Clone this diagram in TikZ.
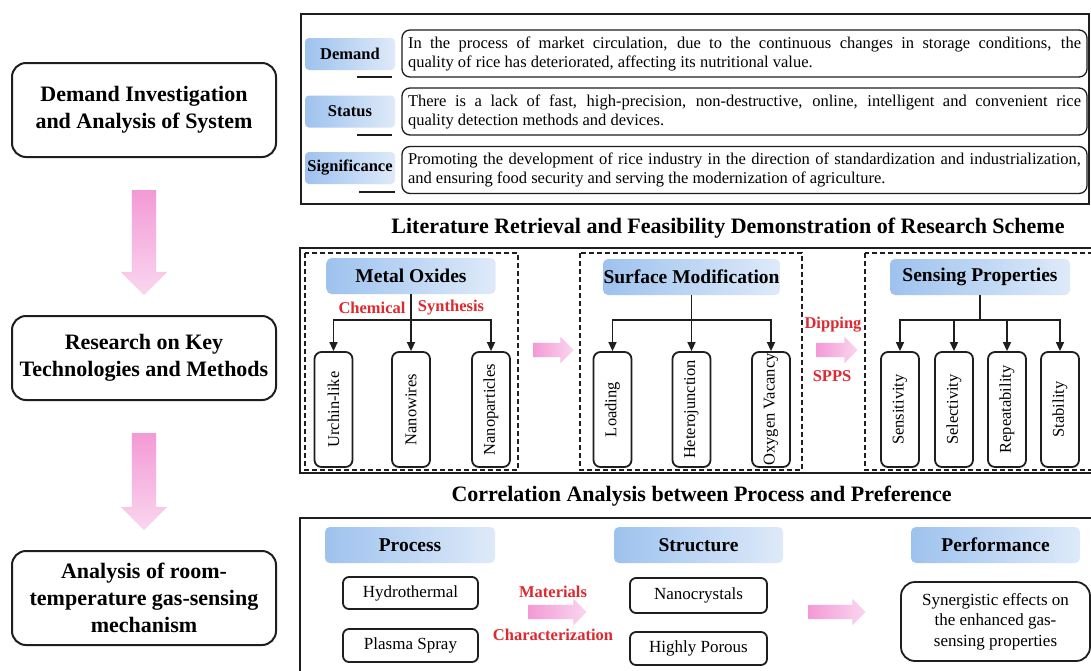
\documentclass[tikz,border=0pt]{standalone}
\usepackage{fontspec,graphicx}
\setmainfont{Liberation Serif}
\usetikzlibrary{arrows.meta,calc,shapes.arrows}
\definecolor{lineblk}{HTML}{1E1E1E}
\definecolor{hotred}{HTML}{DC2A30}
\definecolor{blueA}{HTML}{9EC2EE}
\definecolor{blueB}{HTML}{DEEAF9}
\definecolor{pinkA}{HTML}{F39AD5}
\definecolor{pinkB}{HTML}{FAD6EF}

\begin{document}
\begin{tikzpicture}[
  x=1pt, y=-1pt,
  stage/.style={draw=lineblk, line width=2pt, rounded corners=14pt, fill=white, minimum width=264pt, inner xsep=3pt, align=center, font=\fontsize{22}{27}\selectfont\bfseries},
  tag/.style={rounded corners=4pt, left color=blueA, right color=blueB, minimum width=90pt, minimum height=32pt, inner sep=0pt, font=\fontsize{16.5}{19}\selectfont\bfseries},
  note/.style={draw=lineblk, line width=1.3pt, rounded corners=8pt, text width=673pt, inner xsep=6pt, inner ysep=3pt, align=justify, minimum height=47pt, font=\fontsize{16.5}{19}\selectfont},
  head/.style={rounded corners=5pt, left color=blueA, right color=blueB, minimum height=36pt, inner sep=0pt, font=\fontsize{19.5}{23}\selectfont\bfseries},
  leaf/.style={draw=lineblk, line width=1.8pt, rounded corners=7pt, minimum width=38pt, minimum height=115pt, inner sep=0pt, font=\fontsize{16.5}{20}\selectfont},
  item/.style={draw=lineblk, line width=1.8pt, rounded corners=6pt, inner sep=0pt, align=center, font=\fontsize{17}{20.5}\selectfont},
  redtxt/.style={text=hotred, inner sep=0pt, font=\fontsize{16.5}{20}\selectfont\bfseries},
  title/.style={inner sep=0pt, font=\fontsize{22}{26}\selectfont\bfseries},
  panel/.style={draw=lineblk, line width=2.5pt},
  zone/.style={draw=lineblk, line width=1.4pt, dash pattern=on 5pt off 3pt},
  edge/.style={-{Triangle[length=9pt,width=8pt]}, line width=1.5pt, draw=lineblk},
  uline/.style={line width=1.8pt, draw=lineblk},
  downarrow/.style={single arrow, shape border rotate=270, draw=none, top color=pinkA, bottom color=pinkB, inner sep=12pt, minimum width=46pt, single arrow head extend=11pt},
  rightarrow/.style={single arrow, draw=none, left color=pinkA, right color=pinkB, inner sep=7pt, minimum width=26pt, single arrow head extend=6pt}
]
\useasboundingbox (0,0) rectangle (1091,670);
\clip (0,0) rectangle (1091,670);
\fill[white] (0,0) rectangle (1091,670);

\node[stage, minimum height=94pt] (demand) at (144,110) {Demand Investigation\\and Analysis of System};
\node[stage, minimum height=84pt] (research) at (144,358) {Research on Key\\Technologies and Methods};
\node[stage, minimum height=94pt] (mechanism) at (144,598) {Analysis of room-\\temperature gas-sensing\\mechanism};
\node[downarrow, minimum height=105pt] (ar1) at ($(demand.south)!0.5!(research.north)$) {};
\node[downarrow, minimum height=97pt] (ar2) at ($(research.south)!0.5!(mechanism.north)$) {};

\draw[panel] (301,14) rectangle (1089,204);
\node[tag] (dlab) at (350,54) {Demand};
\node[tag] (slab) at (350,111.5) {Status};
\node[tag] (siglab) at (350,168) {Significance};
\draw[uline] ([xshift=-38pt,yshift=-7pt]dlab.south east) -- ++(35,0);
\draw[uline] ([xshift=-38pt,yshift=-7pt]slab.south east) -- ++(35,0);
\draw[uline] ([xshift=-36pt,yshift=-8pt]siglab.south east) -- ++(36,0);
\node[note] (dtext) at (744.5,53.5) {In the process of market circulation, due to the continuous changes in storage conditions, the\linebreak quality of rice has deteriorated, affecting its nutritional value.};
\node[note] (stext) at (744.5,111.5) {There is a lack of fast, high-precision, non-destructive, online, intelligent and convenient rice\linebreak quality detection methods and devices.};
\node[note] (sigtext) at (744.5,170) {Promoting the development of rice industry in the direction of standardization and industrialization,\linebreak and ensuring food security and serving the modernization of agriculture.};

\node[title] (title1) at (728,228) {Literature Retrieval and Feasibility Demonstration of Research Scheme};
\draw[panel] (300,248) rectangle (1110,473);
\draw[zone] (305,253) rectangle (518,470);
\draw[zone] (580,253) rectangle (802,470);
\draw[zone] (865,253) rectangle (1110,470);

\node[head, minimum width=169pt] (oxides) at (411,276) {Metal Oxides};
\node[leaf] (urchin) at (333.5,409.5) {\rotatebox{90}{Urchin-like}};
\node[leaf] (wires) at (411,409.5) {\rotatebox{90}{Nanowires}};
\node[leaf] (particles) at (491,409.5) {\rotatebox{90}{Nanoparticles}};
\draw[edge] (oxides.south) -- ++(0,26) -| (urchin.north);
\draw[edge] (oxides.south) -- (wires.north);
\draw[edge] (oxides.south) -- ++(0,26) -| (particles.north);
\node[redtxt] (chem) at (372,308) {Chemical};
\node[redtxt] (synth) at (451,308) {Synthesis};
\node[rightarrow, minimum height=40pt] (ar3) at (550,350) {};

\node[head, minimum width=177pt] (surface) at (691.5,277) {Surface Modification};
\node[leaf] (loading) at (612.5,409.5) {\rotatebox{90}{Loading}};
\node[leaf] (hetero) at (691.5,409.5) {\rotatebox{90}{Heterojunction}};
\node[leaf] (vacancy) at (771,409.5) {\rotatebox{90}{Oxygen Vacancy}};
\draw[edge] (surface.south) -- ++(0,25) -| (loading.north);
\draw[edge] (surface.south) -- (hetero.north);
\draw[edge] (surface.south) -- ++(0,25) -| (vacancy.north);
\node[redtxt] (dip) at (833,325) {Dipping};
\node[rightarrow, minimum height=41pt] (ar4) at (833.5,350) {};
\node[redtxt] (spps) at (832,376) {SPPS};

\node[head, minimum width=180pt] (sensing) at (980,277) {Sensing Properties};
\node[leaf] (sensitivity) at (900,409.5) {\rotatebox{90}{Sensitivity}};
\node[leaf] (selectivity) at (954,409.5) {\rotatebox{90}{Selectivity}};
\node[leaf] (repeat) at (1007,409.5) {\rotatebox{90}{Repeatability}};
\node[leaf] (stability) at (1060,409.5) {\rotatebox{90}{Stability}};
\foreach \leafname in {sensitivity,selectivity,repeat,stability}
  \draw[edge] (sensing.south) -- ++(0,25) -| (\leafname.north);

\node[title] (title2) at (701.5,496) {Correlation Analysis between Process and Preference};
\draw[panel] (300,518) rectangle (1110,690);

\node[head, minimum width=170pt] (process) at (410,545) {Process};
\node[item, minimum width=135pt, minimum height=32pt] (hydro) at (410.5,593) {Hydrothermal};
\node[item, minimum width=135pt, minimum height=33pt] (plasma) at (410.5,645.5) {Plasma Spray};
\node[redtxt] (mat) at (553,592) {Materials};
\node[rightarrow, minimum height=58pt] (ar5) at (554,612) {};
\node[redtxt] (charac) at (553,635) {Characterization};

\node[head, minimum width=169pt] (structure) at (698.5,545) {Structure};
\node[item, minimum width=137pt, minimum height=35pt] (crystals) at (698.5,595.5) {Nanocrystals};
\node[item, minimum width=137pt, minimum height=33pt] (porous) at (698.5,648.5) {Highly Porous};
\node[rightarrow, minimum height=57pt] (ar6) at (833.5,612) {};

\node[head, minimum width=169pt] (performance) at (995.5,545) {Performance};
\node[item, rounded corners=14pt, minimum width=189pt, minimum height=79pt] (synergy) at (995.5,621.5) {Synergistic effects on\\the enhanced gas-\\sensing properties};
\end{tikzpicture}
\end{document}
